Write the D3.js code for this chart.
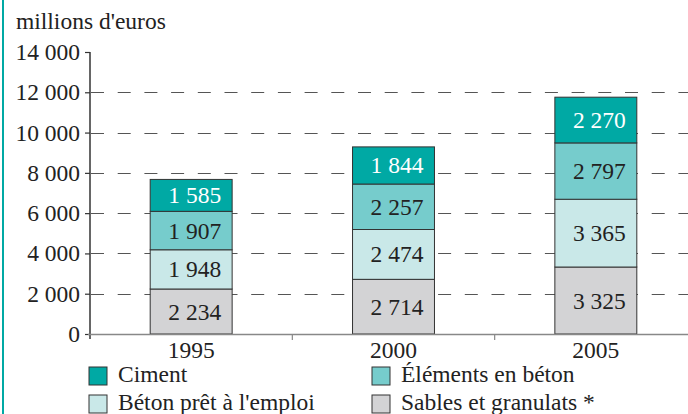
<!DOCTYPE html>
<html>
<head>
<meta charset="utf-8">
<script src="https://cdn.jsdelivr.net/npm/d3@7"></script>
<style>
  body { margin: 0; background: #fff; }
</style>
</head>
<body>
<div id="chart"></div>
<script>
// data
var years = ["1995", "2000", "2005"];
var series = ["Sables et granulats *", "Béton prêt à l'emploi", "Éléments en béton", "Ciment"];
var sables = [2234, 2714, 3325];
var beton = [1948, 2474, 3365];
var elements = [1907, 2257, 2797];
var ciment = [1585, 1844, 2270];
var yTicks = [0, 2000, 4000, 6000, 8000, 10000, 12000, 14000];

var colors = {
    "Ciment": "#00a9a4",
    "Éléments en béton": "#76cccc",
    "Béton prêt à l'emploi": "#c9e8e8",
    "Sables et granulats *": "#d3d3d5"
};

var FONT = "Liberation Serif";
var FS = 23.5;
var W = 688, H = 414;
var x0 = 90, y0 = 334, yTop = 52;

var svg = d3.select("#chart").append("svg")
    .attr("width", W)
    .attr("height", H)
    .attr("font-family", FONT);

// left border line
svg.append("line")
    .attr("x1", 3).attr("x2", 3)
    .attr("y1", 0).attr("y2", H)
    .attr("stroke", "#00a9a4")
    .attr("stroke-width", 2);

var x = d3.scaleBand()
    .domain(years)
    .range([x0, 697])
    .paddingInner(0.595)
    .paddingOuter(0.2975);

var y = d3.scaleLinear()
    .domain([0, 14000])
    .range([y0, yTop]);

var fmtNum = function (v) {
    return d3.format(",")(v).replace(/,/g, " ");
};

// gridlines
svg.append("g")
    .selectAll("line")
    .data(yTicks.filter(function (d) { return d > 0 && d < 14000; }))
    .enter().append("line")
    .attr("x1", x0 + 1).attr("x2", W)
    .attr("y1", function (d) { return Math.round(y(d)) + 0.5; })
    .attr("y2", function (d) { return Math.round(y(d)) + 0.5; })
    .attr("stroke", "#555")
    .attr("stroke-width", 1.1)
    .attr("stroke-dasharray", "13,13.7");

// stacked bars
var rows = years.map(function (yr, i) {
    return {
        year: yr,
        "Sables et granulats *": sables[i],
        "Béton prêt à l'emploi": beton[i],
        "Éléments en béton": elements[i],
        "Ciment": ciment[i]
    };
});
var stack = d3.stack().keys(series)(rows);

var layers = svg.append("g")
    .selectAll("g")
    .data(stack)
    .enter().append("g")
    .attr("fill", function (d) { return colors[d.key]; });

layers.selectAll("rect")
    .data(function (d) { return d; })
    .enter().append("rect")
    .attr("x", function (d) { return x(d.data.year); })
    .attr("y", function (d) { return y(d[1]); })
    .attr("width", x.bandwidth())
    .attr("height", function (d) { return y(d[0]) - y(d[1]); })
    .attr("stroke", "#333")
    .attr("stroke-width", 1);

layers.selectAll("text")
    .data(function (d) { return d.map(function (p) { p.key = d.key; return p; }); })
    .enter().append("text")
    .attr("x", function (d) { return x(d.data.year) + x.bandwidth() - 11; })
    .attr("y", function (d) { return (y(d[0]) + y(d[1])) / 2 + 8; })
    .attr("text-anchor", "end")
    .attr("font-family", FONT)
    .attr("font-size", FS)
    .attr("fill", function (d) { return d.key === "Ciment" ? "#fff" : "#222"; })
    .text(function (d) { return fmtNum(d[1] - d[0]); });

// y axis
var yAxis = svg.append("g")
    .attr("transform", "translate(" + x0 + ",0)")
    .call(d3.axisLeft(y).tickValues(yTicks).tickSize(5).tickPadding(5).tickFormat(fmtNum));
yAxis.attr("font-family", FONT);
yAxis.select(".domain").remove();
yAxis.selectAll(".tick line").attr("stroke", "#333").attr("stroke-width", 1.2);
yAxis.selectAll("text")
    .attr("font-size", FS)
    .attr("fill", "#222")
    .attr("font-family", FONT);
svg.append("line")
    .attr("x1", x0).attr("x2", x0)
    .attr("y1", yTop).attr("y2", y0 + 5)
    .attr("stroke", "#333")
    .attr("stroke-width", 1.5);

// x axis
svg.append("line")
    .attr("x1", x0 - 2).attr("x2", W)
    .attr("y1", y0 + 0.5).attr("y2", y0 + 0.5)
    .attr("stroke", "#888")
    .attr("stroke-width", 1.5);
svg.append("g")
    .selectAll("line")
    .data(years.slice(1))
    .enter().append("line")
    .attr("x1", function (d) { return x(d) - x.step() * x.paddingInner() / 2; })
    .attr("x2", function (d) { return x(d) - x.step() * x.paddingInner() / 2; })
    .attr("y1", y0).attr("y2", y0 + 6)
    .attr("stroke", "#888")
    .attr("stroke-width", 1.2);
svg.append("g")
    .selectAll("text")
    .data(years)
    .enter().append("text")
    .attr("x", function (d) { return x(d) + x.bandwidth() / 2; })
    .attr("y", y0 + 24)
    .attr("text-anchor", "middle")
    .attr("font-family", FONT)
    .attr("font-size", FS)
    .attr("fill", "#222")
    .text(function (d) { return d; });

// unit label
svg.append("text")
    .attr("x", 16)
    .attr("y", 29)
    .attr("font-family", FONT)
    .attr("font-size", FS)
    .attr("fill", "#222")
    .text("millions d'euros");

// legend
var legendItems = [
    { name: "Ciment", col: 0, row: 0 },
    { name: "Éléments en béton", col: 1, row: 0 },
    { name: "Béton prêt à l'emploi", col: 0, row: 1 },
    { name: "Sables et granulats *", col: 1, row: 1 }
];
var legend = svg.append("g")
    .selectAll("g")
    .data(legendItems)
    .enter().append("g")
    .attr("transform", function (d) {
        return "translate(" + (d.col ? 372 : 89) + "," + (367 + d.row * 28) + ")";
    });
legend.append("rect")
    .attr("width", 18).attr("height", 18)
    .attr("fill", function (d) { return colors[d.name]; })
    .attr("stroke", "#333")
    .attr("stroke-width", 1);
legend.append("text")
    .attr("x", 29)
    .attr("y", 15)
    .attr("font-family", FONT)
    .attr("font-size", FS)
    .attr("fill", "#222")
    .text(function (d) { return d.name; });
</script>
</body>
</html>
